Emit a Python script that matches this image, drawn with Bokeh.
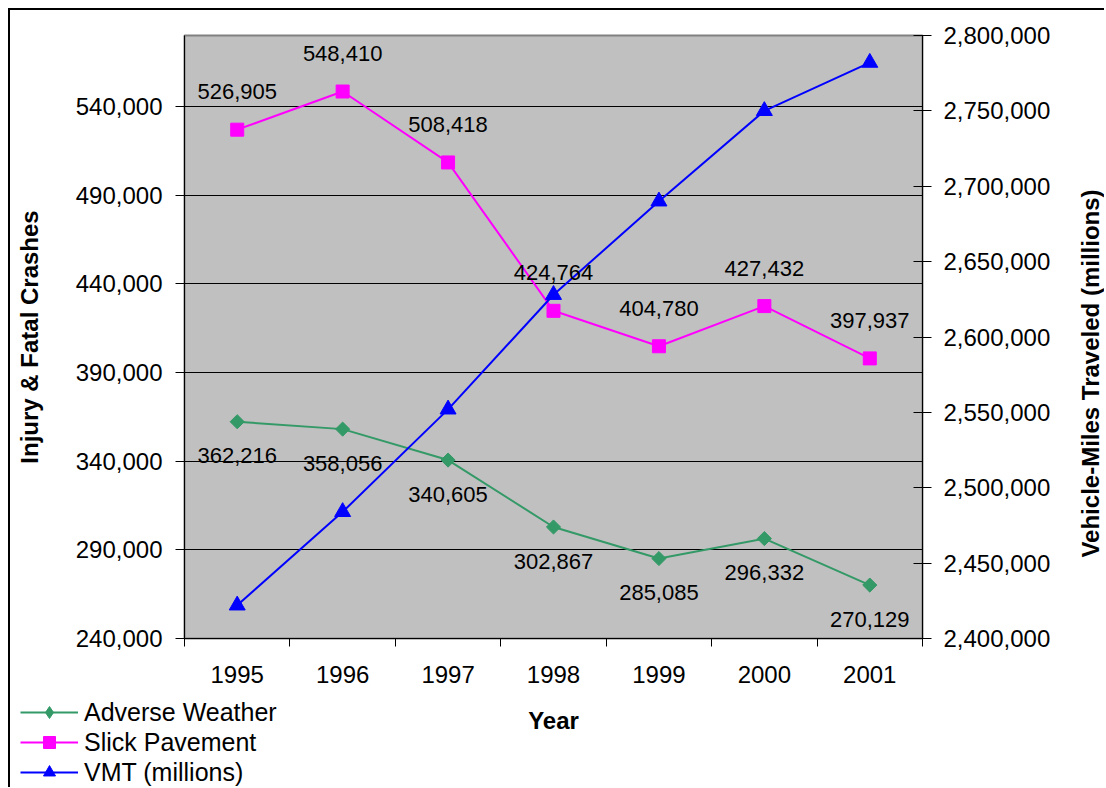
import math
from bokeh.plotting import figure
from bokeh.layouts import row
from bokeh.core.properties import value
from bokeh.models import (ColumnDataSource, Range1d, LinearAxis, FixedTicker,
                          NumeralTickFormatter, Legend, LegendItem, LabelSet, Label)
from bokeh.embed import file_html
from bokeh.resources import INLINE

years = [1995, 1996, 1997, 1998, 1999, 2000, 2001]
adverse = [362216, 358056, 340605, 302867, 285085, 296332, 270129]
slick = [526905, 548410, 508418, 424764, 404780, 427432, 397937]
vmt = [2422000, 2484000, 2552000, 2628000, 2690000, 2750000, 2782000]
left_ticks = [240000, 290000, 340000, 390000, 440000, 490000, 540000]
right_ticks = [2400000, 2450000, 2500000, 2550000, 2600000, 2650000, 2700000, 2750000, 2800000]
series_names = ["Adverse Weather", "Slick Pavement", "VMT (millions)"]

FONT = "Liberation Sans"
GREEN = "#339966"
MAGENTA = "#FF00FF"
BLUE = "#0000FF"

src = ColumnDataSource(data=dict(
    year=years, adverse=adverse, slick=slick, vmt=vmt,
    adverse_txt=[f"{v:,}" for v in adverse],
    slick_txt=[f"{v:,}" for v in slick],
))

# ---------------- main chart ----------------
p = figure(width=1060, height=697, frame_width=738, frame_height=603,
           min_border_left=184, min_border_right=138, min_border_top=35, min_border_bottom=59,
           x_range=Range1d(1994.5, 2001.5), y_range=Range1d(240000, 580000),
           output_backend="svg", toolbar_location=None,
           background_fill_color="#C0C0C0", border_fill_color=None)
p.extra_y_ranges = {"vmt": Range1d(2400000, 2800000)}

p.outline_line_color = "#808080"
p.outline_line_width = 2
p.xgrid.visible = False
p.ygrid.grid_line_color = "black"
p.ygrid.grid_line_width = 1

xa = p.xaxis[0]
xa.ticker = FixedTicker(ticks=years, minor_ticks=[y - 0.5 for y in years] + [years[-1] + 0.5])
xa.major_tick_line_color = None
xa.major_tick_out = 8
xa.major_tick_in = 0
xa.minor_tick_out = 8
xa.minor_tick_in = 0
xa.minor_tick_line_color = "black"
xa.axis_line_color = "black"
xa.major_label_text_font = FONT
xa.major_label_text_font_size = "24px"
xa.major_label_text_color = "black"
xa.major_label_standoff = 19

ya = p.yaxis[0]
ya.ticker = FixedTicker(ticks=left_ticks)
ya.formatter = NumeralTickFormatter(format="0,0")
ya.major_tick_out = 9
ya.major_tick_in = 0
ya.minor_tick_line_color = None
ya.axis_line_color = "black"
ya.major_label_text_font = FONT
ya.major_label_text_font_size = "24px"
ya.major_label_text_color = "black"
ya.major_label_standoff = 13
ya.axis_label = "Injury & Fatal Crashes"
ya.axis_label_text_font = FONT
ya.axis_label_text_font_size = "24px"
ya.axis_label_text_font_style = "bold"
ya.axis_label_text_color = "black"
ya.axis_label_standoff = 30

ra = LinearAxis(y_range_name="vmt", ticker=FixedTicker(ticks=right_ticks),
                formatter=NumeralTickFormatter(format="0,0"))
ra.major_tick_out = 9
ra.major_tick_in = 9
ra.minor_tick_line_color = None
ra.axis_line_color = "black"
ra.major_label_text_font = FONT
ra.major_label_text_font_size = "24px"
ra.major_label_text_color = "black"
ra.major_label_standoff = 12
p.add_layout(ra, "right")

p.line("year", "adverse", source=src, line_color=GREEN, line_width=2)
p.scatter("year", "adverse", source=src, marker="square", angle=math.pi / 4,
          size=10, fill_color=GREEN, line_color=GREEN)
p.line("year", "slick", source=src, line_color=MAGENTA, line_width=2)
p.scatter("year", "slick", source=src, marker="square", size=13,
          fill_color=MAGENTA, line_color=MAGENTA)
p.line("year", "vmt", source=src, line_color=BLUE, line_width=2, y_range_name="vmt")
p.scatter("year", "vmt", source=src, marker="triangle", size=16,
          fill_color=BLUE, line_color=BLUE, y_range_name="vmt")

p.add_layout(LabelSet(x="year", y="slick", text="slick_txt", source=src, y_offset=38,
                      text_align="center", text_baseline="middle", text_font=value(FONT),
                      text_font_size="22px", text_color="black"))
p.add_layout(LabelSet(x="year", y="adverse", text="adverse_txt", source=src, y_offset=-34,
                      text_align="center", text_baseline="middle", text_font=value(FONT),
                      text_font_size="22px", text_color="black"))

# ---------------- right strip: right axis title ----------------
p3 = figure(width=44, height=697, frame_width=44, frame_height=603,
            min_border_left=0, min_border_right=0, min_border_top=35, min_border_bottom=59,
            x_axis_type=None, y_axis_type=None,
            x_range=Range1d(0, 1), y_range=Range1d(0, 1),
            output_backend="svg", toolbar_location=None,
            border_fill_color=None, background_fill_color=None)
p3.grid.visible = False
p3.outline_line_color = None
p3.add_layout(Label(x=30, y=265, x_units="screen", y_units="screen",
                    text="Vehicle-Miles Traveled (millions)", angle=math.pi / 2,
                    text_align="center", text_baseline="middle", text_font=FONT,
                    text_font_size="24px", text_font_style="bold", text_color="black"))

top = row(p, p3, spacing=0,
          styles={"box-shadow": "inset 8px 8px 0 0 white, inset 10px 10px 0 0 black"})

# ---------------- bottom strip: legend + x title ----------------
p2 = figure(width=1104, height=90, x_axis_type=None, y_axis_type=None,
            x_range=Range1d(0, 1), y_range=Range1d(0, 1), min_border=0,
            output_backend="svg", toolbar_location=None,
            border_fill_color=None, background_fill_color=None,
            styles={"box-shadow": "inset 8px 0 0 0 white, inset 10px 0 0 0 black"})
p2.grid.visible = False
p2.outline_line_color = None

ghost = ColumnDataSource(data=dict(x=[-10], y=[-10]))
g1l = p2.line("x", "y", source=ghost, line_color=GREEN, line_width=2)
g1m = p2.scatter("x", "y", source=ghost, marker="diamond", size=17,
                 fill_color=GREEN, line_color=GREEN)
g2l = p2.line("x", "y", source=ghost, line_color=MAGENTA, line_width=2)
g2m = p2.scatter("x", "y", source=ghost, marker="square", size=13,
                 fill_color=MAGENTA, line_color=MAGENTA)
g3l = p2.line("x", "y", source=ghost, line_color=BLUE, line_width=2)
g3m = p2.scatter("x", "y", source=ghost, marker="triangle", size=16,
                 fill_color=BLUE, line_color=BLUE)

legend = Legend(items=[
    LegendItem(label=series_names[0], renderers=[g1l, g1m]),
    LegendItem(label=series_names[1], renderers=[g2l, g2m]),
    LegendItem(label=series_names[2], renderers=[g3l, g3m]),
], location=(20, 0), orientation="vertical")
legend.padding = 0
legend.margin = 0
legend.spacing = 0
legend.glyph_width = 58
legend.glyph_height = 30
legend.label_height = 30
legend.label_standoff = 6
legend.label_text_font = FONT
legend.label_text_font_size = "25px"
legend.label_text_color = "black"
legend.border_line_color = None
legend.background_fill_color = None
p2.add_layout(legend, "center")

p2.add_layout(Label(x=553, y=67, x_units="screen", y_units="screen", text="Year",
                    text_align="center", text_baseline="middle", text_font=FONT,
                    text_font_size="24px", text_font_style="bold", text_color="black"))

open("out.html", "w").write(file_html([top, p2], INLINE))
